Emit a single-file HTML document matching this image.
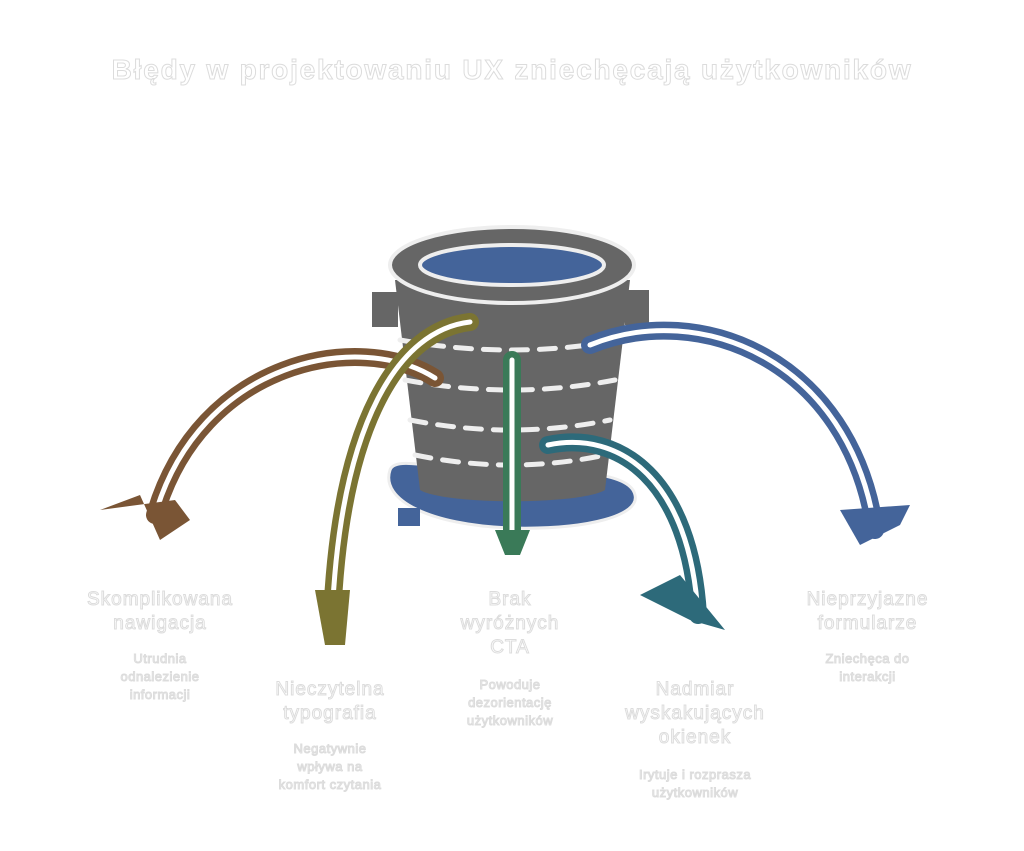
<!DOCTYPE html>
<html><head><meta charset="utf-8"><style>
body{margin:0;width:1024px;height:851px;background:#fff;overflow:hidden;font-family:"Liberation Sans",sans-serif;position:relative}
.t{position:absolute;color:#fff;text-align:center;-webkit-text-stroke:1px #dcdcdc;}
.h{font-size:19px;line-height:24px;letter-spacing:1px}
.s{font-size:13px;line-height:18px;letter-spacing:0.5px}
</style></head><body>
<svg width="1024" height="851" style="position:absolute;left:0;top:0">
<path d="M390 470 C380 500 430 525 510 528 C590 530 640 515 635 495 C630 470 560 470 500 472 C440 470 395 455 390 470Z" fill="#44649a" stroke="#eee" stroke-width="3"/>
<rect x="398" y="508" width="22" height="18" fill="#44649a"/>
<rect x="372" y="292" width="26" height="35" fill="#666"/>
<rect x="625" y="290" width="24" height="35" fill="#666"/>
<path d="M395 280 L630 280 L605 490 C580 505 445 505 420 490 Z" fill="#666"/>
<path d="M400 340 Q512 360 620 340 M405 380 Q512 400 615 380 M410 420 Q512 440 610 420 M415 455 Q512 475 605 455" stroke="#eee" stroke-width="5" fill="none" stroke-dasharray="16 12" stroke-linecap="round"/>
<ellipse cx="512" cy="265" rx="122" ry="38" fill="#666" stroke="#eee" stroke-width="4"/>
<ellipse cx="512" cy="265" rx="92" ry="20" fill="#44649a" stroke="#eee" stroke-width="4"/>
<g fill="none" stroke-linecap="round">
<path d="M435 378 C360 330 200 360 155 515" stroke="#7a5535" stroke-width="18"/>
<path d="M435 378 C360 330 200 360 155 515" stroke="#fff" stroke-width="5"/>
<path d="M470 322 C400 330 340 420 332 620" stroke="#7b7432" stroke-width="18"/>
<path d="M470 322 C400 330 340 420 332 620" stroke="#fff" stroke-width="5"/>
<path d="M512 360 L512 540" stroke="#3a7a58" stroke-width="18"/>
<path d="M512 360 L512 540" stroke="#fff" stroke-width="5"/>
<path d="M548 445 C620 430 690 480 698 615" stroke="#2d6a7a" stroke-width="18"/>
<path d="M548 445 C620 430 690 480 698 615" stroke="#fff" stroke-width="5"/>
<path d="M590 345 C700 300 850 360 875 530" stroke="#44649a" stroke-width="18"/>
<path d="M590 345 C700 300 850 360 875 530" stroke="#fff" stroke-width="5"/>
</g>
<g>
<path d="M100 510 L140 495 L160 540 L190 520 L175 500Z" fill="#7a5535"/>
<path d="M315 590 L350 590 L345 645 L325 645Z" fill="#7b7432"/>
<path d="M495 530 L530 530 L520 555 L505 555Z" fill="#3a7a58"/>
<path d="M640 595 L680 575 L725 630 L690 620Z" fill="#2d6a7a"/>
<path d="M840 510 L910 505 L900 525 L860 545Z" fill="#44649a"/>
</g>
</svg>
<div class="t" style="left:0;width:1024px;top:54px;font-size:28px;font-weight:bold;letter-spacing:1.8px">Błędy w projektowaniu UX zniechęcają użytkowników</div>
<div class="t h" style="left:50px;width:220px;top:588px">Skomplikowana<br>nawigacja</div>
<div class="t s" style="left:80px;width:160px;top:650px">Utrudnia<br>odnalezienie<br>informacji</div>
<div class="t h" style="left:230px;width:200px;top:678px">Nieczytelna<br>typografia</div>
<div class="t s" style="left:250px;width:160px;top:740px">Negatywnie<br>wpływa na<br>komfort czytania</div>
<div class="t h" style="left:430px;width:160px;top:588px">Brak<br>wyróżnych<br>CTA</div>
<div class="t s" style="left:430px;width:160px;top:676px">Powoduje<br>dezorientację<br>użytkowników</div>
<div class="t h" style="left:600px;width:190px;top:678px">Nadmiar<br>wyskakujących<br>okienek</div>
<div class="t s" style="left:600px;width:190px;top:766px">Irytuje i rozprasza<br>użytkowników</div>
<div class="t h" style="left:775px;width:185px;top:588px">Nieprzyjazne<br>formularze</div>
<div class="t s" style="left:790px;width:155px;top:650px">Zniechęca do<br>interakcji</div>
</body></html>
